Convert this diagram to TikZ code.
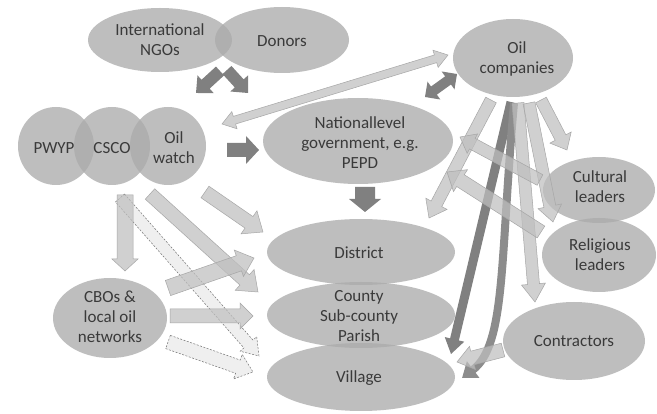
\documentclass[tikz,border=0pt]{standalone}
\usepackage{fontspec}
\setmainfont{Carlito}
\usetikzlibrary{shapes.geometric,arrows.meta,calc}
\definecolor{txt}{HTML}{3A3A3A}
\newcommand\elfont{\fontsize{17}{20}\selectfont}
% block arrow: [style]{from}{to}{half body}{half head}{head length}
\newcommand\blkarrow[6][]{%
  \draw[#1] let \p1=(#2), \p2=(#3), \n1={atan2(\y2-\y1,\x2-\x1)}, \n2={veclen(\x2-\x1,\y2-\y1)} in
   [shift={(\p1)}, rotate=\n1] (0,-#4) -- ({\n2-#6},-#4) -- ({\n2-#6},-#5) -- (\n2,0) -- ({\n2-#6},#5) -- ({\n2-#6},#4) -- (0,#4) -- cycle;}
\newcommand\dblarrow[6][]{%
  \draw[#1] let \p1=(#2), \p2=(#3), \n1={atan2(\y2-\y1,\x2-\x1)}, \n2={veclen(\x2-\x1,\y2-\y1)} in
   [shift={(\p1)}, rotate=\n1] (#6,-#4) -- ({\n2-#6},-#4) -- ({\n2-#6},-#5) -- (\n2,0) -- ({\n2-#6},#5) -- ({\n2-#6},#4) -- (#6,#4) -- (#6,#5) -- (0,0) -- (#6,-#5) -- cycle;}
\begin{document}
\begin{tikzpicture}[x=1pt,y=-1pt,
  ell/.style={ellipse, fill=black!33, fill opacity=0.77, draw=none, inner sep=0pt},
  tx/.style={text=txt, align=center, font=\elfont, inner sep=0pt},
  darkarr/.style={fill=black!50, draw=none},
  lightarr/.style={fill=black!25, fill opacity=0.72, draw=black!35, line width=0.5pt},
  dasharr/.style={fill=black!8, fill opacity=0.8, draw=black!55, dashed, dash pattern=on 2pt off 1.5pt, line width=0.5pt}]
\fill[white] (0,0) rectangle (657,414);
\useasboundingbox (0,0) rectangle (657,414);

% ellipses
\node[ell, minimum width=144pt, minimum height=64pt] (ngo) at (160,40) {};
\node[ell, minimum width=134pt, minimum height=66pt] (donors) at (282,40) {};
\node[ell, minimum width=76pt, minimum height=78pt] (pwyp) at (56,146) {};
\node[ell, minimum width=76pt, minimum height=78pt] (csco) at (112,146) {};
\node[ell, minimum width=76pt, minimum height=78pt] (oilw) at (168,146) {};
\node[ell, minimum width=190pt, minimum height=86pt] (natl) at (358,141) {};
\node[ell, minimum width=120pt, minimum height=78pt] (oilco) at (513,58) {};
\node[ell, minimum width=112pt, minimum height=66pt] (cult) at (599,190) {};
\node[ell, minimum width=114pt, minimum height=74pt] (relig) at (599,255) {};
\node[ell, minimum width=142pt, minimum height=78pt] (contr) at (574,341) {};
\node[ell, minimum width=188pt, minimum height=66pt] (dist) at (361,252) {};
\node[ell, minimum width=188pt, minimum height=66pt] (county) at (361,315) {};
\node[ell, minimum width=188pt, minimum height=68pt] (village) at (361,377) {};
\node[ell, minimum width=114pt, minimum height=80pt] (cbo) at (110,318) {};

% texts
\node[tx] (ngoT) at (160,40) {International\\NGOs};
\node[tx] (donorsT) at (282,41) {Donors};
\node[tx] (pwypT) at (54,148) {PWYP};
\node[tx] (cscoT) at (112,148) {CSCO};
\node[tx] (oilwT) at (174,148) {Oil\\watch};
\node[tx] (natlT) at (360,143) {Nationallevel\\government, e.g.\\PEPD};
\node[tx] (oilcoT) at (517,59) {Oil\\companies};
\node[tx] (cultT) at (600,187) {Cultural\\leaders};
\node[tx] (religT) at (600,255) {Religious\\leaders};
\node[tx] (contrT) at (574,341) {Contractors};
\node[tx] (distT) at (359,253) {District};
\node[tx] (countyT) at (359,316) {County\\Sub-county\\Parish};
\node[tx] (villageT) at (359,378) {Village};
\node[tx] (cboT) at (110,317) {CBOs \&\\local oil\\networks};

% arrow end points
\coordinate (a1s) at (220,71); \coordinate (a1e) at (196,93);
\coordinate (a2s) at (227,70); \coordinate (a2e) at (248,93);
\coordinate (a3s) at (227,150); \coordinate (a3e) at (259,150);
\coordinate (a4s) at (425,97); \coordinate (a4e) at (457,74);
\coordinate (a5s) at (365,187); \coordinate (a5e) at (365,212);
\coordinate (l0s) at (222,124); \coordinate (l0e) at (448,55);
\coordinate (l1s) at (205,192); \coordinate (l1e) at (263,232);
\coordinate (l2s) at (150,194); \coordinate (l2e) at (258,292);
\coordinate (l3s) at (120,198); \coordinate (l3e) at (259,356);
\coordinate (l4s) at (125,195); \coordinate (l4e) at (125,271);
\coordinate (l5s) at (168,288); \coordinate (l5e) at (254,258);
\coordinate (l6s) at (170,316); \coordinate (l6e) at (253,316);
\coordinate (l7s) at (168,342); \coordinate (l7e) at (253,372);
\coordinate (o1s) at (491,100); \coordinate (o1e) at (429,218);
\coordinate (o2s) at (518,103); \coordinate (o2e) at (535,302);
\coordinate (o3s) at (529,103); \coordinate (o3e) at (553,222);
\coordinate (o4s) at (541,100); \coordinate (o4e) at (567,150);
\coordinate (d1s) at (511,102); \coordinate (d1e) at (451,354);
\coordinate (cvs) at (514,103); \coordinate (cve) at (462,378);
\coordinate (c1s) at (540,180); \coordinate (c1e) at (460,137);
\coordinate (c2s) at (541,232); \coordinate (c2e) at (447,172);
\coordinate (ks) at (503,350); \coordinate (ke) at (457,362);

% dark arrows
\blkarrow[darkarr]{a1s}{a1e}{6}{12}{13}
\blkarrow[darkarr]{a2s}{a2e}{6}{12}{13}
\blkarrow[darkarr]{a3s}{a3e}{7}{14}{13}
\dblarrow[darkarr]{a4s}{a4e}{5}{11}{11}
\blkarrow[darkarr]{a5s}{a5e}{10}{16}{13}
\blkarrow[darkarr]{d1s}{d1e}{4.5}{10}{15}
\draw[draw=black!45, line width=8pt, -{Triangle[width=20pt,length=14pt]}]
  (cvs) .. controls (500,260) and (506,345) .. (cve);

% light arrows
\dblarrow[lightarr]{l0s}{l0e}{4}{9}{13}
\blkarrow[lightarr]{l1s}{l1e}{7}{14}{17}
\blkarrow[lightarr]{l2s}{l2e}{7}{14}{18}
\blkarrow[dasharr]{l3s}{l3e}{6}{11}{16}
\blkarrow[lightarr]{l4s}{l4e}{8}{13}{12}
\blkarrow[lightarr]{l5s}{l5e}{8}{14}{16}
\blkarrow[lightarr]{l6s}{l6e}{7}{13}{13}
\blkarrow[dasharr]{l7s}{l7e}{7}{13}{16}
\blkarrow[lightarr]{o1s}{o1e}{6}{12}{16}
\blkarrow[lightarr]{o2s}{o2e}{6}{12}{18}
\blkarrow[lightarr]{o3s}{o3e}{6}{12}{16}
\blkarrow[lightarr]{o4s}{o4e}{6}{12}{14}
\blkarrow[lightarr]{c1s}{c1e}{6}{11}{14}
\blkarrow[lightarr]{c2s}{c2e}{7}{13}{16}
\blkarrow[lightarr]{ks}{ke}{7}{12}{16}
\end{tikzpicture}
\end{document}
